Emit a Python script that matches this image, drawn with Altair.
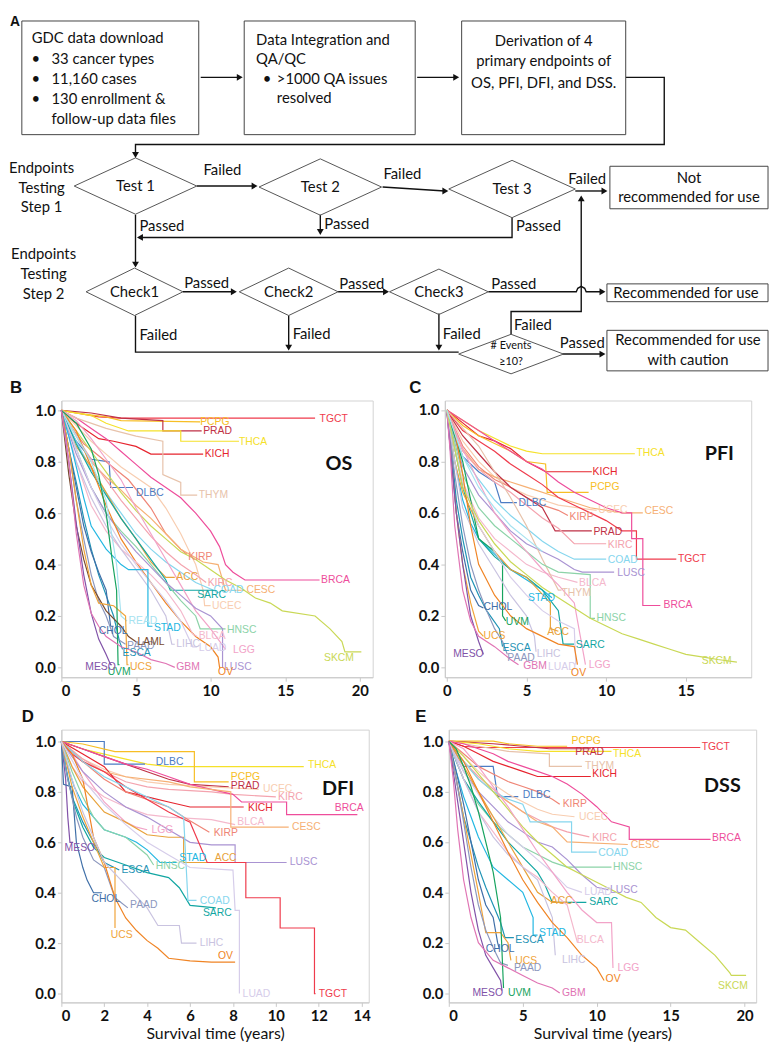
import altair as alt
import pandas as pd

# ---------------------------------------------------------------- cancers
CANCERS = ["ACC", "BLCA", "BRCA", "CESC", "CHOL", "COAD", "DLBC", "ESCA", "GBM", "HNSC",
           "KICH", "KIRC", "KIRP", "LAML", "LGG", "LIHC", "LUAD", "LUSC", "MESO", "OV",
           "PAAD", "PCPG", "PRAD", "READ", "SARC", "SKCM", "STAD", "TGCT", "THCA", "THYM",
           "UCEC", "UCS", "UVM"]
COLORS = ["#E8A23A", "#F4B8CC", "#EE4D9B", "#F6B074", "#3F6FA8", "#86D6EE", "#4C7CC4", "#1F93B5",
          "#E074B4", "#8CD3A8", "#E6242E", "#F4A3AE", "#EF8576", "#7A4A2E", "#F2A3C8", "#C9C3E0",
          "#D6CDEA", "#A993D2", "#8152A8", "#F08424", "#8C97BE", "#F7BE25", "#BF3146", "#A6E2F0",
          "#12A6A2", "#C9D855", "#23B7E2", "#EF3B4C", "#F5E12A", "#E7C2AA", "#F8CDB0", "#F0A43A",
          "#16A35E"]

# ---------------------------------------------------------------- OS (panel B)
OS = {
    "TGCT": [(0, 1), (1, 0.99), (2.5, 0.975), (4, 0.97), (17, 0.97)],
    "PCPG": [(0, 1), (1, 0.99), (3, 0.975), (4, 0.96), (9.3, 0.955)],
    "PRAD": [(0, 1), (2, 0.99), (4, 0.97), (6.8, 0.96), (6.8, 0.92), (9.4, 0.92)],
    "THCA": [(0, 1), (2, 0.98), (3, 0.95), (4.5, 0.92), (8, 0.92), (8, 0.88), (11.9, 0.88)],
    "KICH": [(0, 1), (0.5, 0.97), (1.5, 0.93), (2.5, 0.89), (3.5, 0.88), (5, 0.86), (6, 0.83), (9.5, 0.83)],
    "BRCA": [(0, 1), (1, 0.97), (2, 0.93), (3, 0.89), (4, 0.84), (5, 0.79), (6, 0.74), (7, 0.7), (8, 0.66),
             (9, 0.6), (10, 0.53), (10.6, 0.47), (11, 0.4), (11.5, 0.37), (12.3, 0.34), (17.3, 0.34)],
    "THYM": [(0, 1), (1, 0.97), (3, 0.93), (5, 0.9), (6.8, 0.88), (6.8, 0.75), (8, 0.72), (8, 0.67), (9.1, 0.67)],
    "DLBC": [(0, 1), (0.5, 0.93), (1, 0.88), (2, 0.81), (3.2, 0.8), (3.3, 0.7), (4.8, 0.7)],
    "KIRP": [(0, 1), (0.5, 0.95), (1.5, 0.87), (3, 0.8), (4.5, 0.73), (6, 0.62), (7, 0.52), (8, 0.46), (8.4, 0.44)],
    "UCEC": [(0, 1), (1, 0.94), (2, 0.88), (3, 0.83), (4, 0.78), (5, 0.74), (6, 0.7), (7, 0.62), (8, 0.52),
             (9, 0.4), (9.5, 0.3), (9.6, 0.24), (10, 0.24)],
    "CESC": [(0, 1), (1, 0.9), (2, 0.8), (3, 0.74), (4, 0.69), (5, 0.63), (6, 0.58), (7, 0.52), (8, 0.46),
             (9.5, 0.41), (10.5, 0.4), (11, 0.3), (12.3, 0.3)],
    "KIRC": [(0, 1), (1, 0.9), (2, 0.81), (3, 0.73), (4, 0.65), (5, 0.58), (6, 0.51), (7, 0.45), (8, 0.4),
             (9, 0.36), (9.7, 0.33)],
    "COAD": [(0, 1), (1, 0.88), (2, 0.77), (3, 0.68), (4, 0.6), (5, 0.52), (6, 0.46), (7, 0.41), (8, 0.37),
             (9, 0.33), (10.2, 0.3)],
    "ACC": [(0, 1), (0.5, 0.92), (1, 0.86), (2, 0.78), (3, 0.68), (4, 0.58), (5, 0.5), (6, 0.41), (7, 0.35), (7.6, 0.35)],
    "SARC": [(0, 1), (1, 0.87), (2, 0.76), (3, 0.67), (4, 0.58), (5, 0.5), (6, 0.42), (7, 0.34), (7.3, 0.3), (10.2, 0.3)],
    "HNSC": [(0, 1), (1, 0.85), (2, 0.7), (3, 0.6), (4, 0.53), (5, 0.47), (6, 0.4), (7, 0.33), (8, 0.26),
             (9, 0.2), (9.3, 0.15), (11, 0.15)],
    "SKCM": [(0, 1), (1, 0.92), (2, 0.84), (3, 0.76), (4, 0.68), (5, 0.61), (6, 0.55), (7, 0.5), (8, 0.45),
             (9, 0.42), (10, 0.38), (11, 0.34), (12, 0.31), (13, 0.27), (14, 0.25), (14.8, 0.22), (17, 0.2),
             (18, 0.15), (18.8, 0.1), (19, 0.06), (20.1, 0.06)],
    "LGG": [(0, 1), (1, 0.96), (2, 0.89), (3, 0.81), (4, 0.73), (5, 0.62), (6, 0.52), (7, 0.42), (8, 0.32),
            (9, 0.22), (10, 0.15), (11, 0.07)],
    "LUSC": [(0, 1), (1, 0.83), (2, 0.7), (3, 0.6), (4, 0.52), (5, 0.45), (6, 0.39), (7, 0.33), (8, 0.28),
             (9, 0.23), (10, 0.2), (10.8, 0.15), (10.8, 0.0), (10.85, 0.0)],
    "OV": [(0, 1), (1, 0.92), (2, 0.78), (3, 0.63), (4, 0.5), (5, 0.41), (6, 0.33), (7, 0.25), (8, 0.18),
           (9, 0.12), (10, 0.08), (10.5, 0.04), (10.6, 0.0), (10.65, 0.0)],
    "BLCA": [(0, 1), (1, 0.8), (2, 0.63), (3, 0.53), (4, 0.46), (5, 0.41), (6, 0.36), (7, 0.3), (8, 0.22),
             (8.8, 0.13), (9.1, 0.12)],
    "LUAD": [(0, 1), (1, 0.85), (2, 0.7), (3, 0.58), (4, 0.48), (5, 0.4), (6, 0.33), (7, 0.26), (8, 0.18),
             (8.8, 0.08), (9.1, 0.08)],
    "LIHC": [(0, 1), (1, 0.8), (2, 0.66), (3, 0.55), (4, 0.46), (5, 0.38), (6, 0.3), (7, 0.2), (7.4, 0.09), (7.6, 0.09)],
    "STAD": [(0, 1), (0.5, 0.9), (1, 0.78), (1.5, 0.66), (2, 0.55), (3, 0.46), (4, 0.4), (4.5, 0.38),
             (5.8, 0.38), (5.8, 0.16), (6.1, 0.16)],
    "READ": [(0, 1), (1, 0.9), (2, 0.8), (3, 0.65), (3.7, 0.4), (4, 0.2), (4.4, 0.18)],
    "ESCA": [(0, 1), (0.5, 0.85), (1, 0.72), (1.5, 0.58), (2, 0.46), (2.5, 0.36), (3, 0.28), (3.5, 0.2),
             (3.9, 0.1), (4.1, 0.07)],
    "CHOL": [(0, 1), (0.5, 0.85), (1, 0.7), (1.5, 0.55), (2, 0.45), (2.5, 0.37), (3, 0.3), (3.3, 0.16), (3.5, 0.16)],
    "PAAD": [(0, 1), (0.5, 0.85), (1, 0.65), (1.5, 0.5), (2, 0.36), (2.5, 0.26), (3, 0.2), (3.5, 0.12), (4.3, 0.09)],
    "LAML": [(0, 1), (0.5, 0.75), (1, 0.55), (1.5, 0.42), (2, 0.32), (3, 0.22), (4, 0.16), (4.5, 0.12), (5, 0.1)],
    "UCS": [(0, 1), (0.5, 0.85), (1, 0.65), (1.5, 0.46), (2, 0.32), (2.5, 0.25), (3.5, 0.24), (4.3, 0.2),
            (4.4, 0.01), (4.5, 0.01)],
    "UVM": [(0, 1), (1, 0.95), (2, 0.85), (2.5, 0.75), (3, 0.6), (3.4, 0.42), (3.7, 0.3), (3.8, 0.01), (3.9, 0.01)],
    "MESO": [(0, 1), (0.5, 0.8), (1, 0.56), (1.5, 0.36), (2, 0.21), (2.5, 0.11), (3, 0.05), (3.3, 0.01), (3.4, 0.01)],
    "GBM": [(0, 1), (0.5, 0.8), (1, 0.52), (1.5, 0.32), (2, 0.21), (2.5, 0.16), (3, 0.12), (4, 0.08), (5, 0.06),
            (6, 0.03), (7, 0.015), (7.6, 0.0)],
}
OS_LABELS = {
    "TGCT": (17.3, 0.968), "PCPG": (9.3, 0.955), "PRAD": (9.5, 0.92), "THCA": (11.9, 0.878),
    "KICH": (9.6, 0.83), "DLBC": (5.0, 0.68), "THYM": (9.2, 0.67), "KIRP": (8.5, 0.43),
    "BRCA": (17.4, 0.34), "ACC": (7.7, 0.35), "KIRC": (9.8, 0.33), "COAD": (10.2, 0.30),
    "CESC": (12.4, 0.30), "SARC": (9.1, 0.28), "UCEC": (10.1, 0.24), "HNSC": (11.1, 0.144),
    "STAD": (6.2, 0.154), "READ": (4.5, 0.18), "LIHC": (7.7, 0.09), "BLCA": (9.2, 0.12),
    "LUAD": (9.2, 0.077), "LGG": (11.5, 0.067), "LUSC": (10.9, 0.0), "OV": (10.5, -0.02),
    "SKCM": (17.6, 0.036), "ESCA": (4.1, 0.055), "CHOL": (2.5, 0.14), "PAAD": (4.4, 0.083),
    "LAML": (5.1, 0.1), "UCS": (4.6, 0.0), "UVM": (3.1, -0.02), "MESO": (1.6, 0.0), "GBM": (7.7, 0.0),
}

# ---------------------------------------------------------------- PFI (panel C)
PFI = {
    "THCA": [(0, 1), (1, 0.96), (2, 0.92), (3, 0.89), (4, 0.86), (5, 0.84), (6, 0.83), (11.8, 0.83)],
    "KICH": [(0, 1), (1, 0.95), (2, 0.9), (3, 0.88), (4, 0.85), (5, 0.8), (6.2, 0.76), (9.1, 0.76)],
    "PCPG": [(0, 1), (1, 0.94), (2, 0.9), (3, 0.87), (4, 0.84), (5, 0.8), (6.2, 0.79), (6.3, 0.68), (8.9, 0.68)],
    "DLBC": [(0, 1), (0.5, 0.9), (1, 0.82), (2, 0.76), (3, 0.72), (3.4, 0.64), (4.4, 0.64)],
    "UCEC": [(0, 1), (1, 0.88), (2, 0.8), (3, 0.74), (4, 0.7), (5, 0.67), (6, 0.65), (7, 0.63), (9.4, 0.61)],
    "CESC": [(0, 1), (1, 0.85), (2, 0.77), (3, 0.74), (4, 0.72), (5, 0.7), (7, 0.66), (9, 0.62), (11, 0.6), (12.3, 0.6)],
    "KIRP": [(0, 1), (1, 0.86), (2, 0.78), (3, 0.73), (4, 0.7), (5, 0.66), (6, 0.63), (7, 0.61), (7.6, 0.59)],
    "PRAD": [(0, 1), (1, 0.9), (2, 0.83), (3, 0.76), (4, 0.7), (5, 0.66), (6, 0.62), (6.8, 0.53), (9.1, 0.53)],
    "KIRC": [(0, 1), (1, 0.84), (2, 0.77), (3, 0.72), (4, 0.68), (5, 0.63), (6, 0.58), (7, 0.54), (8, 0.48), (10, 0.48)],
    "TGCT": [(0, 1), (1, 0.92), (2, 0.88), (3, 0.84), (4, 0.79), (5, 0.75), (6, 0.71), (7, 0.66), (8, 0.63),
             (9, 0.6), (10, 0.57), (11, 0.53), (11.9, 0.53), (11.9, 0.42), (14.4, 0.42)],
    "BRCA": [(0, 1), (1, 0.96), (2, 0.92), (3, 0.88), (4, 0.84), (5, 0.8), (6, 0.77), (7, 0.72), (8, 0.68),
             (9, 0.65), (10, 0.62), (11, 0.6), (11.6, 0.6), (11.6, 0.5), (12.3, 0.5), (12.3, 0.24), (13.4, 0.24)],
    "COAD": [(0, 1), (1, 0.82), (2, 0.73), (3, 0.65), (4, 0.59), (5, 0.54), (6, 0.49), (7, 0.45), (8, 0.42), (10, 0.42)],
    "LUSC": [(0, 1), (1, 0.78), (2, 0.67), (3, 0.6), (4, 0.53), (5, 0.48), (6, 0.45), (7, 0.42), (8, 0.38),
             (8.5, 0.37), (10.5, 0.37)],
    "BLCA": [(0, 1), (0.5, 0.85), (1, 0.72), (2, 0.58), (3, 0.5), (4, 0.45), (5, 0.4), (6, 0.37), (7, 0.35), (8.2, 0.33)],
    "THYM": [(0, 1), (1, 0.93), (2, 0.86), (3, 0.76), (4, 0.66), (5, 0.55), (6, 0.42), (7, 0.3), (7.2, 0.3)],
    "HNSC": [(0, 1), (1, 0.75), (2, 0.62), (3, 0.55), (4, 0.5), (5, 0.45), (6, 0.4), (7, 0.37), (9, 0.36),
             (9, 0.19), (9.3, 0.19)],
    "STAD": [(0, 1), (0.5, 0.8), (1, 0.65), (1.5, 0.56), (2, 0.5), (3, 0.44), (4, 0.38), (5, 0.34), (6, 0.3), (6.6, 0.27)],
    "SARC": [(0, 1), (0.5, 0.85), (1, 0.7), (1.5, 0.6), (2, 0.5), (3, 0.43), (4, 0.38), (5, 0.35), (6, 0.3),
             (7, 0.22), (7.3, 0.09), (8, 0.09)],
    "CHOL": [(0, 1), (0.3, 0.8), (0.6, 0.6), (1, 0.45), (1.5, 0.3), (2, 0.24), (2.3, 0.23)],
    "UVM": [(0, 1), (0.5, 0.9), (1, 0.8), (1.5, 0.65), (2, 0.5), (3, 0.45), (3.5, 0.4), (3.5, 0.2), (3.7, 0.18)],
    "ACC": [(0, 1), (0.5, 0.8), (1, 0.68), (2, 0.55), (3, 0.45), (4, 0.38), (5, 0.35), (6.5, 0.25), (6.5, 0.15), (7, 0.14)],
    "UCS": [(0, 1), (0.3, 0.85), (0.6, 0.6), (1, 0.4), (1.5, 0.25), (2, 0.14), (2.3, 0.12)],
    "ESCA": [(0, 1), (0.3, 0.85), (0.6, 0.65), (1, 0.5), (1.5, 0.35), (2, 0.28), (2.5, 0.22), (3.3, 0.15), (3.5, 0.08)],
    "PAAD": [(0, 1), (0.5, 0.75), (1, 0.55), (1.5, 0.4), (2, 0.3), (2.5, 0.22), (3, 0.15), (3.5, 0.1), (3.8, 0.05)],
    "LIHC": [(0, 1), (0.5, 0.8), (1, 0.62), (2, 0.48), (3, 0.38), (4, 0.28), (5, 0.2), (5.5, 0.12), (5.6, 0.06)],
    "MESO": [(0, 1), (0.3, 0.8), (0.6, 0.6), (1, 0.4), (1.5, 0.2), (2, 0.1), (2.3, 0.05)],
    "GBM": [(0, 1), (0.2, 0.85), (0.5, 0.55), (1, 0.3), (1.5, 0.18), (2, 0.12), (3, 0.08), (4, 0.03), (4.5, 0.01)],
    "LUAD": [(0, 1), (0.5, 0.85), (1, 0.72), (2, 0.55), (3, 0.45), (4, 0.35), (5, 0.28), (6, 0.22), (7, 0.18),
             (8, 0.15), (8.1, 0.01)],
    "OV": [(0, 1), (0.5, 0.92), (1, 0.75), (1.5, 0.55), (2, 0.4), (3, 0.28), (4, 0.2), (5, 0.15), (6, 0.12),
           (7, 0.09), (8, 0.08), (8.2, 0.01)],
    "LGG": [(0, 1), (1, 0.85), (2, 0.72), (3, 0.6), (4, 0.52), (5, 0.45), (6, 0.38), (7, 0.32), (8, 0.25), (8.7, 0.01)],
    "SKCM": [(0, 1), (0.5, 0.85), (1, 0.7), (2, 0.57), (3, 0.48), (4, 0.41), (5, 0.36), (6, 0.31), (7, 0.27),
             (8, 0.23), (9, 0.19), (10, 0.16), (11, 0.13), (12, 0.11), (13, 0.09), (14, 0.07), (15, 0.05),
             (16, 0.04), (17, 0.03), (18.2, 0.02)],
    "READ": [(0, 1), (1, 0.82), (2, 0.7), (3, 0.62), (4, 0.55), (5, 0.5), (6, 0.45)],
}
PFI_LABELS = {
    "THCA": (11.9, 0.834), "KICH": (9.15, 0.76), "PCPG": (9.0, 0.70), "DLBC": (4.5, 0.64),
    "UCEC": (9.5, 0.613), "CESC": (12.4, 0.607), "KIRP": (7.7, 0.585), "PRAD": (9.2, 0.527),
    "KIRC": (10.1, 0.477), "TGCT": (14.5, 0.42), "BRCA": (13.6, 0.24), "COAD": (10.1, 0.415),
    "LUSC": (10.7, 0.365), "BLCA": (8.3, 0.327), "THYM": (7.2, 0.29), "HNSC": (9.4, 0.19),
    "STAD": (5.1, 0.27), "SARC": (8.1, 0.085), "CHOL": (2.3, 0.234), "UVM": (3.7, 0.176),
    "ACC": (6.3, 0.138), "UCS": (2.3, 0.12), "ESCA": (3.5, 0.074), "PAAD": (3.8, 0.036),
    "LIHC": (5.65, 0.052), "MESO": (0.4, 0.05), "GBM": (4.8, 0.004), "LUAD": (6.35, 0.0),
    "OV": (7.8, -0.024), "LGG": (8.9, 0.008), "SKCM": (16.0, 0.023),
}

# ---------------------------------------------------------------- DFI (panel D)
DFI = {
    "THCA": [(0, 1), (1, 0.97), (2, 0.95), (3, 0.93), (4, 0.91), (5, 0.9), (11.3, 0.9)],
    "DLBC": [(0, 1), (2, 1), (2, 0.91), (3.9, 0.91)],
    "PCPG": [(0, 1), (1, 0.99), (2.5, 0.96), (6.2, 0.96), (6.2, 0.84), (7.8, 0.84)],
    "PRAD": [(0, 1), (1, 0.97), (2, 0.94), (3, 0.91), (4, 0.88), (5, 0.85), (6, 0.83), (7.8, 0.82)],
    "UCEC": [(0, 1), (1, 0.93), (2, 0.89), (3, 0.86), (4, 0.84), (5, 0.83), (7, 0.82), (9.2, 0.81)],
    "KIRC": [(0, 1), (1, 0.93), (2, 0.88), (3, 0.84), (4, 0.82), (5, 0.81), (7, 0.8), (8, 0.79), (10, 0.78)],
    "KICH": [(0, 1), (1, 0.95), (2, 0.9), (3, 0.8), (4, 0.78), (5, 0.76), (6, 0.74), (8.5, 0.74)],
    "BRCA": [(0, 1), (1, 0.97), (2, 0.94), (3, 0.91), (4, 0.89), (5, 0.86), (6, 0.83), (7, 0.81), (8, 0.79),
             (8.4, 0.76), (10.5, 0.76), (10.5, 0.71), (13.8, 0.71)],
    "BLCA": [(0, 1), (0.5, 0.9), (1, 0.84), (2, 0.78), (3, 0.74), (4, 0.71), (5, 0.7), (7, 0.69), (8.1, 0.67)],
    "CESC": [(0, 1), (1, 0.92), (2, 0.88), (3, 0.86), (5, 0.84), (6, 0.82), (7.9, 0.8), (7.9, 0.66), (10.6, 0.66)],
    "KIRP": [(0, 1), (1, 0.92), (2, 0.85), (3, 0.8), (4, 0.77), (5, 0.74), (5.7, 0.7), (6.9, 0.64)],
    "LGG": [(0, 1), (0.5, 0.95), (1, 0.88), (1.5, 0.82), (2, 0.76), (2.5, 0.72), (3, 0.68), (3.5, 0.66), (4, 0.65)],
    "MESO": [(0, 1), (0.2, 0.85), (0.3, 0.7), (0.4, 0.6), (0.55, 0.6)],
    "STAD": [(0, 1), (0.3, 0.9), (0.6, 0.82), (1, 0.75), (1.5, 0.7), (2, 0.65), (3, 0.62), (3.5, 0.6), (4, 0.57),
             (4.6, 0.52), (5.4, 0.52)],
    "ACC": [(0, 1), (0.5, 0.9), (1, 0.82), (2, 0.72), (3, 0.68), (4, 0.63), (5, 0.62), (5.7, 0.62), (5.7, 0.52), (7, 0.52)],
    "LUSC": [(0, 1), (1, 0.88), (2, 0.8), (3, 0.74), (4, 0.7), (5, 0.65), (6, 0.6), (7, 0.59), (8.1, 0.59),
             (8.1, 0.52), (10.5, 0.52)],
    "TGCT": [(0, 1), (0.5, 0.95), (1, 0.92), (2, 0.88), (3, 0.82), (4, 0.77), (5, 0.72), (6, 0.68), (6.8, 0.52),
             (8.6, 0.52), (8.6, 0.38), (10.2, 0.38), (10.2, 0.26), (11.8, 0.26), (11.8, 0.0), (11.85, 0.0)],
    "HNSC": [(0, 1), (0.5, 0.88), (1, 0.78), (1.5, 0.7), (2, 0.65), (3, 0.62), (4, 0.55), (4.3, 0.51)],
    "ESCA": [(0, 1), (0.2, 0.9), (0.5, 0.78), (1, 0.68), (1.5, 0.6), (2, 0.52), (2.7, 0.49)],
    "SARC": [(0, 1), (0.3, 0.85), (0.6, 0.75), (1, 0.66), (1.5, 0.58), (2, 0.54), (3, 0.51), (4, 0.48), (5, 0.46),
             (5.5, 0.42), (6, 0.35), (7.2, 0.34)],
    "COAD": [(0, 1), (1, 0.92), (2, 0.86), (3, 0.82), (4, 0.78), (5, 0.74), (5.7, 0.7), (5.9, 0.37), (6.3, 0.37)],
    "CHOL": [(0, 1), (0.1, 0.83), (0.5, 0.82), (0.7, 0.6), (1, 0.5), (1.2, 0.45), (1.5, 0.4), (1.9, 0.4)],
    "PAAD": [(0, 1), (0.3, 0.85), (0.7, 0.7), (1, 0.62), (1.5, 0.53), (2, 0.5), (2.5, 0.38), (3.1, 0.34)],
    "UCS": [(0, 1), (0.5, 0.82), (1, 0.7), (1.5, 0.6), (2, 0.5), (2.5, 0.5), (2.5, 0.26)],
    "OV": [(0, 1), (0.5, 0.95), (1, 0.85), (1.5, 0.62), (2, 0.52), (2.5, 0.38), (3, 0.3), (3.5, 0.25), (4, 0.21),
           (4.5, 0.18), (5, 0.14), (6, 0.13), (7, 0.125), (8.1, 0.125)],
    "LIHC": [(0, 1), (0.5, 0.85), (1, 0.72), (1.5, 0.62), (2, 0.52), (3, 0.43), (4, 0.34), (4.5, 0.27),
             (5.5, 0.27), (5.6, 0.2), (6.3, 0.2)],
    "LUAD": [(0, 1), (1, 0.85), (2, 0.75), (3, 0.67), (4, 0.6), (5, 0.55), (6, 0.5), (8, 0.49), (8.1, 0.33),
             (8.3, 0.33), (8.3, 0.0)],
}
DFI_LABELS = {
    "THCA": (11.5, 0.907), "DLBC": (4.4, 0.92), "PCPG": (7.9, 0.857), "PRAD": (7.9, 0.825),
    "UCEC": (9.4, 0.81), "KIRC": (10.1, 0.78), "KICH": (8.7, 0.736), "BRCA": (12.75, 0.736),
    "BLCA": (8.2, 0.68), "CESC": (10.75, 0.66), "KIRP": (7.1, 0.635), "LGG": (4.2, 0.65),
    "MESO": (0.15, 0.576), "STAD": (5.5, 0.537), "ACC": (7.15, 0.537), "LUSC": (10.65, 0.52),
    "TGCT": (12.0, 0.0), "HNSC": (4.4, 0.505), "ESCA": (2.8, 0.49), "SARC": (6.6, 0.32),
    "COAD": (6.45, 0.367), "CHOL": (1.4, 0.374), "PAAD": (3.2, 0.35), "UCS": (2.3, 0.233),
    "OV": (7.3, 0.15), "LIHC": (6.45, 0.2), "LUAD": (8.45, 0.0),
}

# ---------------------------------------------------------------- DSS (panel E)
DSS = {
    "TGCT": [(0, 1), (1, 0.98), (2, 0.975), (17, 0.975)],
    "PCPG": [(0, 1), (3, 1), (4, 0.99), (6, 0.98), (8, 0.98)],
    "PRAD": [(0, 1), (3, 0.99), (5, 0.98), (6.8, 0.97), (9.6, 0.97)],
    "THCA": [(0, 1), (2, 0.99), (4, 0.97), (6, 0.96), (11, 0.96)],
    "THYM": [(0, 1), (2, 0.98), (4, 0.96), (6.8, 0.95), (6.8, 0.9), (9, 0.9)],
    "KICH": [(0, 1), (1, 0.98), (2, 0.95), (3, 0.92), (4, 0.9), (5, 0.88), (6, 0.86), (9.6, 0.86)],
    "DLBC": [(0, 1), (0.5, 0.95), (1, 0.9), (3, 0.9), (3.3, 0.78), (4.7, 0.78)],
    "KIRP": [(0, 1), (1, 0.95), (2, 0.9), (3, 0.87), (4, 0.84), (5, 0.82), (6, 0.8), (7, 0.77), (7.5, 0.75)],
    "UCEC": [(0, 1), (1, 0.94), (2, 0.88), (3, 0.83), (4, 0.79), (5, 0.76), (6, 0.73), (7, 0.71), (8.5, 0.7)],
    "BRCA": [(0, 1), (1, 0.99), (2, 0.97), (3, 0.95), (4, 0.92), (5, 0.9), (6, 0.88), (7, 0.86), (8, 0.83),
             (9, 0.79), (10, 0.74), (11, 0.68), (12.2, 0.66), (12.2, 0.61), (17.7, 0.61)],
    "KIRC": [(0, 1), (1, 0.92), (2, 0.86), (3, 0.81), (4, 0.76), (5, 0.72), (6, 0.69), (7, 0.66), (8, 0.64), (9.5, 0.62)],
    "CESC": [(0, 1), (1, 0.92), (2, 0.85), (3, 0.8), (4, 0.76), (5, 0.72), (6, 0.68), (7, 0.66), (8, 0.6), (12.1, 0.59)],
    "COAD": [(0, 1), (1, 0.92), (2, 0.85), (3, 0.8), (4, 0.77), (5, 0.75), (5.5, 0.68), (8.3, 0.68), (8.3, 0.56), (10, 0.56)],
    "HNSC": [(0, 1), (1, 0.85), (2, 0.75), (3, 0.68), (4, 0.63), (5, 0.58), (6, 0.55), (7, 0.52), (8, 0.5), (11, 0.5)],
    "LUSC": [(0, 1), (1, 0.88), (2, 0.8), (3, 0.74), (4, 0.68), (5, 0.64), (6, 0.6), (7, 0.58), (8, 0.53),
             (9, 0.47), (10, 0.42), (10.8, 0.41)],
    "LUAD": [(0, 1), (1, 0.88), (2, 0.79), (3, 0.7), (4, 0.63), (5, 0.58), (6, 0.53), (7, 0.48), (8, 0.42), (9, 0.4)],
    "SKCM": [(0, 1), (1, 0.94), (2, 0.87), (3, 0.8), (4, 0.73), (5, 0.66), (6, 0.6), (7, 0.55), (8, 0.5),
             (9, 0.47), (10, 0.44), (11, 0.41), (12, 0.38), (13, 0.36), (14, 0.3), (15, 0.26), (16, 0.25),
             (17, 0.2), (18, 0.15), (19, 0.08), (19.1, 0.07), (20.1, 0.07)],
    "SARC": [(0, 1), (0.5, 0.92), (1, 0.85), (2, 0.76), (3, 0.68), (4, 0.6), (5, 0.54), (6, 0.48), (6.5, 0.43),
             (7, 0.36), (9.3, 0.36)],
    "ACC": [(0, 1), (1, 0.9), (2, 0.8), (3, 0.7), (4, 0.6), (5, 0.5), (6, 0.4), (7, 0.36), (8, 0.36)],
    "BLCA": [(0, 1), (1, 0.85), (2, 0.72), (3, 0.64), (4, 0.56), (5, 0.5), (6, 0.46), (7, 0.4), (8, 0.35), (8.7, 0.2)],
    "STAD": [(0, 1), (0.5, 0.88), (1, 0.78), (1.5, 0.7), (2, 0.62), (3, 0.5), (4, 0.45), (5, 0.4), (5.7, 0.3),
             (5.7, 0.23), (6, 0.23)],
    "ESCA": [(0, 1), (0.5, 0.85), (1, 0.7), (1.5, 0.6), (2, 0.5), (2.5, 0.42), (3, 0.35), (3.5, 0.28),
             (3.8, 0.22), (4.4, 0.22)],
    "CHOL": [(0, 1), (0.5, 0.88), (1, 0.75), (1.5, 0.6), (2, 0.45), (2.5, 0.35), (3, 0.3), (3.3, 0.2), (3.4, 0.18)],
    "UCS": [(0, 1), (0.5, 0.85), (1, 0.7), (1.5, 0.55), (2, 0.4), (2.5, 0.24), (3.5, 0.24), (4, 0.2), (4.2, 0.13)],
    "PAAD": [(0, 1), (0.5, 0.85), (1, 0.68), (1.5, 0.5), (2, 0.35), (2.5, 0.25), (3, 0.18), (3.5, 0.12), (4, 0.11)],
    "LIHC": [(0, 1), (1, 0.85), (2, 0.72), (3, 0.62), (4, 0.55), (5, 0.5), (6, 0.45), (7, 0.3), (7.2, 0.15)],
    "LGG": [(0, 1), (1, 0.97), (2, 0.9), (3, 0.82), (4, 0.74), (5, 0.65), (6, 0.56), (7, 0.48), (8, 0.4),
            (9, 0.33), (10, 0.28), (11, 0.28), (11.1, 0.1)],
    "OV": [(0, 1), (1, 0.92), (2, 0.8), (3, 0.68), (4, 0.56), (5, 0.45), (6, 0.36), (7, 0.28), (8, 0.22),
           (9, 0.15), (10, 0.1), (10.5, 0.05)],
    "MESO": [(0, 1), (0.5, 0.8), (1, 0.6), (1.5, 0.4), (2, 0.25), (2.5, 0.15), (3, 0.1), (3.5, 0.05), (3.6, 0.01)],
    "UVM": [(0, 1), (0.5, 0.97), (1, 0.9), (1.5, 0.82), (2, 0.72), (2.5, 0.6), (3, 0.48), (3.5, 0.3), (3.7, 0.02)],
    "GBM": [(0, 1), (0.3, 0.85), (0.6, 0.65), (1, 0.45), (1.5, 0.3), (2, 0.2), (3, 0.13), (4, 0.1), (5, 0.07),
            (6, 0.04), (7, 0.02), (7.5, 0.0)],
}
DSS_LABELS = {
    "TGCT": (17.1, 0.978), "PCPG": (8.3, 1.0), "PRAD": (8.55, 0.957), "THCA": (11.1, 0.948),
    "THYM": (9.2, 0.90), "KICH": (9.7, 0.87), "DLBC": (5.0, 0.788), "KIRP": (7.7, 0.752),
    "UCEC": (8.8, 0.70), "BRCA": (17.8, 0.615), "KIRC": (9.7, 0.615), "CESC": (12.3, 0.587),
    "COAD": (10.1, 0.557), "HNSC": (11.1, 0.50), "LUSC": (10.9, 0.41), "LUAD": (9.15, 0.40),
    "SKCM": (18.2, 0.029), "SARC": (9.5, 0.36), "ACC": (6.9, 0.364), "BLCA": (8.65, 0.21),
    "STAD": (6.1, 0.237), "ESCA": (4.5, 0.21), "CHOL": (2.5, 0.176), "UCS": (4.5, 0.127),
    "PAAD": (4.4, 0.10), "LIHC": (7.65, 0.13), "LGG": (11.4, 0.10), "OV": (10.6, 0.055),
    "MESO": (1.6, 0.0), "UVM": (4.0, 0.0), "GBM": (7.65, 0.0),
}

Y_TICKS = [0, 0.2, 0.4, 0.6, 0.8, 1.0]

# ---------------------------------------------------------------- flowchart (panel A)
# flowchart drawn in a page-pixel-like coordinate space
FLOW_X = [60, 776]
FLOW_Y = [8, 64]
BOXES = [(20, 199, 13, 128), (245, 418, 13, 128), (465, 631, 13, 128),
         (615, 775, 160, 203), (612, 775, 279, 297), (612, 775, 326, 367)]
DIAMONDS = [(135, 180, 62, 28.5), (322, 181, 62, 28.5), (516, 183, 64, 29),
            (134, 287, 49, 24), (290, 287, 50, 24), (442, 287, 50, 23), (515, 350, 53, 20)]
PATHS = [
    [(201, 70), (240, 70)],
    [(420, 70), (459, 70)],
    [(631, 70), (670, 70), (670, 138), (135, 138), (135, 148)],
    [(197, 180), (255, 180)],
    [(385, 181), (448, 185)],
    [(580, 185), (609, 185)],
    [(322, 209), (322, 226)],
    [(516, 212), (516, 232), (140, 232)],
    [(135, 209), (135, 259)],
    [(183, 287), (234, 287)],
    [(340, 287), (388, 287)],
    [(492, 287), (581, 287), (582.5, 283.5), (586, 281.5), (589.5, 283.5), (591, 287), (607, 287)],
    [(135, 311), (135, 348), (462, 348)],
    [(290, 311), (290, 343)],
    [(442, 309), (442, 343)],
    [(515, 330), (515, 307), (586, 307), (586, 193)],
    [(567, 350), (607, 350)],
]
HEADS = [(244, 70, "R"), (463, 70, "R"), (135, 152, "D"), (259, 180, "R"), (452, 185, "R"),
         (613, 185, "R"), (322, 230, "D"), (136, 232, "L"), (135, 263, "D"), (238, 287, "R"),
         (392, 287, "R"), (611, 287, "R"), (290, 347, "D"), (442, 347, "D"), (586, 189, "U"),
         (611, 350, "R")]
TEXT_LEFT = [
    ("GDC data download", 30, 30), ("33 cancer types", 50, 52), ("11,160 cases", 50, 72),
    ("130 enrollment &", 50, 92), ("follow-up data files", 50, 112),
    ("Data Integration and", 257, 32), ("QA/QC", 257, 52), (">1000 QA issues", 278, 72), ("resolved", 278, 91),
    ("Passed", 139, 220), ("Passed", 326, 218), ("Passed", 520, 220), ("Passed", 495, 279),
    ("Failed", 139, 331), ("Failed", 294, 330), ("Failed", 446, 330), ("Failed", 518, 321),
]
BULLETS = [(34, 52), (34, 72), (34, 92), (268, 72)]
TEXT_CENTER = [
    ("Derivation of 4", 548, 33), ("primary endpoints of", 548, 54), ("OS, PFI, DFI, and DSS.", 548, 76),
    ("Test 1", 135, 180), ("Test 2", 322, 181), ("Test 3", 516, 183),
    ("Check1", 134, 287), ("Check2", 290, 287), ("Check3", 442, 287),
    ("Failed", 223, 164), ("Failed", 405, 168), ("Failed", 592, 173),
    ("Passed", 207, 278), ("Passed", 364, 279), ("Passed", 587, 339),
    ("Not", 695, 172), ("recommended for use", 695, 191),
    ("Recommended for use", 692, 288),
    ("Recommended for use", 694, 336), ("with caution", 694, 356),
    ("Endpoints", 40, 162), ("Testing", 40, 182), ("Step 1", 40, 201),
    ("Endpoints", 42, 249), ("Testing", 42, 269), ("Step 2", 42, 289),
]
TEXT_SMALL = [("# Events", 515, 342), ("≥10?", 515, 358)]

FONT = "Lato"

fx = alt.X("x:Q", scale=alt.Scale(domain=FLOW_X, nice=False, zero=False), axis=None)
fy = alt.Y("y:Q", scale=alt.Scale(domain=FLOW_Y, nice=False, zero=False, reverse=True), axis=None)

box_df = pd.DataFrame(BOXES, columns=["x", "x2", "y", "y2"])
dia_rows = []
for k, (cx, cy, hw, hh) in enumerate(DIAMONDS):
    for j, (px, py) in enumerate([(cx - hw, cy), (cx, cy - hh), (cx + hw, cy), (cx, cy + hh), (cx - hw, cy)]):
        dia_rows.append({"id": k, "o": j, "x": px, "y": py})
path_rows = []
for k, path in enumerate(PATHS):
    for j, (px, py) in enumerate(path):
        path_rows.append({"id": k, "o": j, "x": px, "y": py})
VEC = {"R": (1, 0), "L": (-1, 0), "U": (0, -1), "D": (0, 1)}
SHAPES = {"R": "triangle-right", "L": "triangle-left", "U": "triangle-up", "D": "triangle-down"}
head_rows = [{"x": x - VEC[d][0] * 3.5, "y": y - VEC[d][1] * 3.5, "shape": SHAPES[d]} for x, y, d in HEADS]

paths_layer = alt.Chart(pd.DataFrame(path_rows)).mark_line(color="#111", strokeWidth=1.4).encode(
    x=fx, y=fy, detail="id:N", order="o:Q")
dia_layer = alt.Chart(pd.DataFrame(dia_rows)).mark_line(color="#555", strokeWidth=1).encode(
    x=fx, y=fy, detail="id:N", order="o:Q")
box_layer = alt.Chart(box_df).mark_rect(fill="white", stroke="#444", strokeWidth=1).encode(
    x=fx, x2="x2:Q", y=fy, y2="y2:Q")
head_layer = alt.Chart(pd.DataFrame(head_rows)).mark_point(filled=True, size=48, color="#111", opacity=1).encode(
    x=fx, y=fy, shape=alt.Shape("shape:N", scale=None))
tl_layer = alt.Chart(pd.DataFrame(TEXT_LEFT, columns=["label", "x", "y"])).mark_text(
    align="left", baseline="middle", font=FONT, fontSize=15, color="#111").encode(x=fx, y=fy, text="label:N")
tc_layer = alt.Chart(pd.DataFrame(TEXT_CENTER, columns=["label", "x", "y"])).mark_text(
    align="center", baseline="middle", font=FONT, fontSize=15, color="#111").encode(x=fx, y=fy, text="label:N")
ts_layer = alt.Chart(pd.DataFrame(TEXT_SMALL, columns=["label", "x", "y"])).mark_text(
    align="center", baseline="middle", font=FONT, fontSize=11, color="#111").encode(x=fx, y=fy, text="label:N")
bul_df = pd.DataFrame(BULLETS, columns=["x", "y"])
bul_df["label"] = "•"
bul_layer = alt.Chart(bul_df).mark_text(
    align="center", baseline="middle", font=FONT, fontSize=15, color="#111").encode(x=fx, y=fy, text="label:N")
a_layer = alt.Chart(pd.DataFrame({"x": [8], "y": [7], "label": ["A"]})).mark_text(
    align="left", baseline="top", font="Liberation Sans", fontSize=14, fontWeight="bold", color="#111").encode(
    x=fx, y=fy, text="label:N")

flow = alt.layer(paths_layer, dia_layer, box_layer, head_layer, tl_layer, tc_layer, ts_layer, bul_layer,
                 a_layer).properties(width=FLOW_X[1] - FLOW_X[0], height=FLOW_Y[1] - FLOW_Y[0],
                                     view=alt.ViewBackground(stroke="transparent"))


# ---------------------------------------------------------------- KM panels
def km_panel(curves, labels, letter, endpoint, name_pos, xdom, ydom, xticks, width, height, dx, xtitle):
    rows = []
    for nm, pts in curves.items():
        for i, (t, s) in enumerate(pts):
            rows.append({"type": nm, "t": t, "s": s, "i": i})
    df = pd.DataFrame(rows)
    lab = pd.DataFrame([{"type": k, "t": v[0], "s": v[1]} for k, v in labels.items()])
    color = alt.Color("type:N", scale=alt.Scale(domain=CANCERS, range=COLORS), legend=None)
    if xtitle:
        xaxis = alt.Axis(values=xticks, title=xtitle, grid=False)
    else:
        xaxis = alt.Axis(values=xticks, title=None, grid=False)
    x = alt.X("t:Q", scale=alt.Scale(domain=xdom, nice=False, zero=False), axis=xaxis)
    y = alt.Y("s:Q", scale=alt.Scale(domain=ydom, nice=False, zero=False),
              axis=alt.Axis(values=Y_TICKS, format=".1f", title=None, grid=False))
    lines = alt.Chart(df).mark_line(interpolate="linear", strokeWidth=1.2).encode(
        x=x, y=y, color=color, detail="type:N", order="i:Q")
    texts = alt.Chart(lab).mark_text(align="left", baseline="middle", font="Liberation Sans",
                                     fontSize=10.5).encode(x=x, y=y, color=color, text="type:N")
    nm = alt.Chart(pd.DataFrame({"t": [name_pos[0]], "s": [name_pos[1]], "n": [endpoint]})).mark_text(
        align="center", baseline="middle", font=FONT, fontSize=20, fontWeight="bold", color="#111").encode(
        x=x, y=y, text="n:N")
    return alt.layer(lines, texts, nm).properties(
        width=width, height=height,
        title=alt.TitleParams(letter, anchor="start", frame="group", dx=dx, offset=4, fontSize=17,
                              font="Liberation Sans", fontWeight="bold", color="#111"))


B = km_panel(OS, OS_LABELS, "B", "OS", (18.6, 0.79), [0, 20.86], [-0.0385, 1.0385],
             [0, 5, 10, 15, 20], 315, 280, -52, None)
C = km_panel(PFI, PFI_LABELS, "C", "PFI", (17.1, 0.827), [-0.12, 19.1], [-0.039, 1.037],
             [0, 5, 10, 15], 310, 280, -36, None)
D = km_panel(DFI, DFI_LABELS, "D", "DFI", (12.9, 0.81), [0, 14.33], [-0.035, 1.047],
             [0, 2, 4, 6, 8, 10, 12, 14], 311, 276, -40, "Survival time (years)")
E = km_panel(DSS, DSS_LABELS, "E", "DSS", (18.5, 0.82), [0, 20.78], [-0.037, 1.046],
             [0, 5, 10, 15, 20], 311, 276, -34, "Survival time (years)")

row1 = alt.hconcat(B, C, spacing=73, bounds="flush")
row2 = alt.hconcat(D, E, spacing=81, bounds="flush")

# flush layout: nested rows count with zero height, so the spacing carries the row pitch
chart = alt.vconcat(flow, row1, row2, spacing=333, bounds="flush").properties(
    padding=0
).configure_view(
    stroke="#d2d2d2"
).configure_axis(
    labelFont=FONT, labelFontSize=15, labelFontWeight="bold", labelColor="#111", labelPadding=2,
    domainColor="#c8c8c8", tickColor="#c8c8c8", tickSize=4,
    titleFont=FONT, titleFontSize=16, titleFontWeight="normal", titleColor="#111", titlePadding=3,
)

chart.save("out.html", embed_options={"renderer": "svg", "actions": False})
